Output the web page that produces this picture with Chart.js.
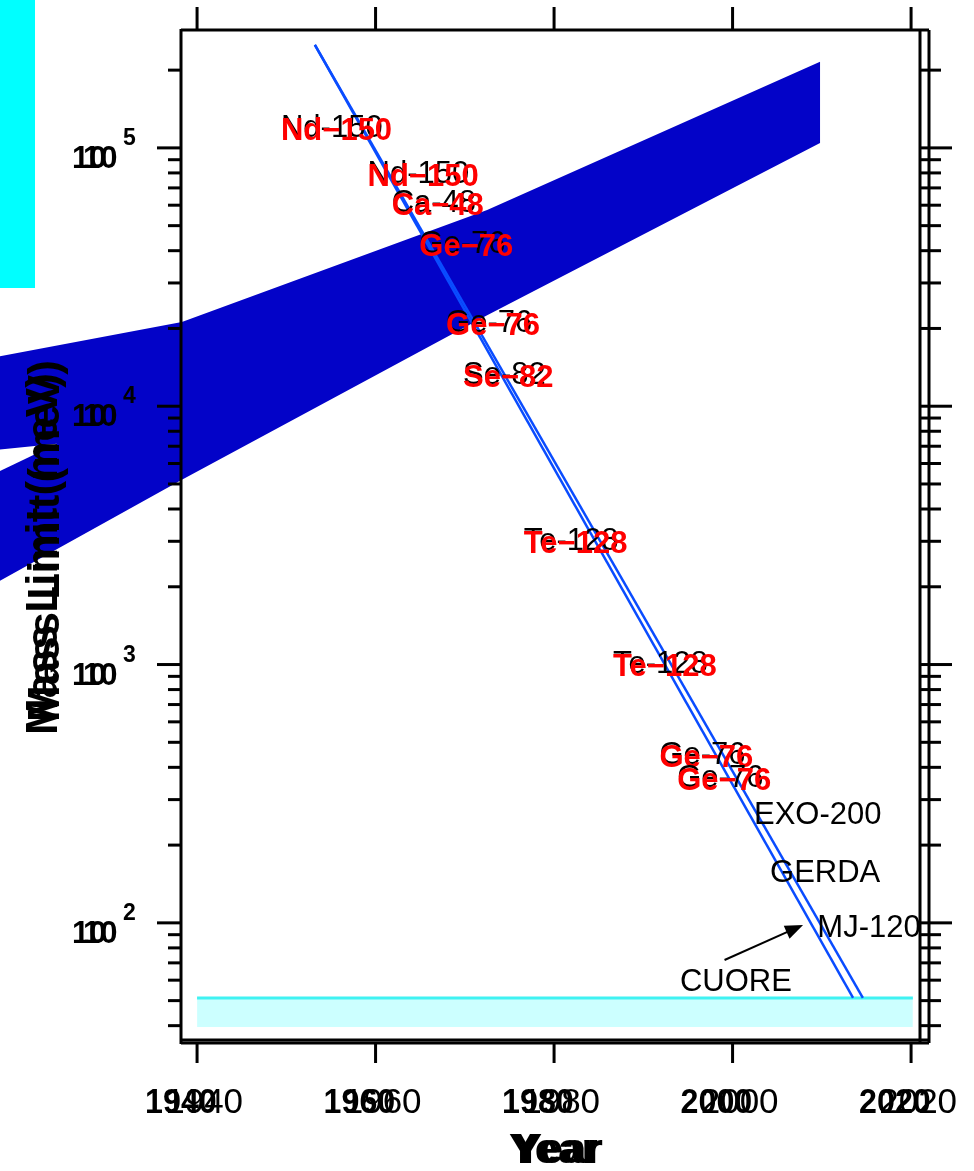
<!DOCTYPE html>
<html>
<head>
<meta charset="utf-8">
<script src="https://cdn.jsdelivr.net/npm/chart.js@4.4.1/dist/chart.umd.min.js"></script>
<style>
  html, body { margin: 0; padding: 0; background: #fff; }
  #wrap { position: relative; width: 974px; height: 1171px; }
</style>
</head>
<body>
<div id="wrap"><canvas id="chart"></canvas></div>
<script>
// sensitivity trend lines (year, mass limit in meV)
const trendYears = [1953.2, 2013.5];
const trendYears2 = [1953.2, 2014.6];
const trendLimits = [250500, 51.2];

// dark blue band
const bandYears = [1917.5, 1938.3, 1972.5, 2009.8];
const bandUpper = [15500, 21200, 57500, 215400];
const bandLower = [2070, 5190, 22500, 104500];
const gapYears = [1917.5, 1924.3, 1917.5];
const gapLimits = [6780, 7150, 5520];

// CUORE region
const cuoreYears = [1940, 2020.2];
const cuoreTop = [51.2, 51.2];
const cuoreBottom = [39.5, 39.5];

// isotope labels
const isoNames = ['Nd-150', 'Nd-150', 'Ca-48', 'Ge-76', 'Ge-76', 'Se-82', 'Te-128', 'Te-128', 'Ge-76', 'Ge-76'];
const isoYears = [1949.4, 1959.1, 1961.8, 1964.9, 1967.9, 1969.8, 1976.6, 1986.6, 1991.8, 1993.8];
const isoLimits = [121700, 80700, 62400, 43300, 21400, 13500, 3060, 1023, 455, 371];

// experiments
const expNames = ['EXO-200', 'GERDA', 'MJ-120', 'CUORE'];
const expYears = [2002.4, 2004.2, 2009.5, 1994.1];
const expLimits = [266, 159, 97.3, 60.1];
const arrowYears = [1999.1, 2007.9];
const arrowLimits = [71.8, 98.2];

const xTitle = 'Year';
const yTitle = 'Mass Limit (meV)';

const FONT = '"Liberation Sans", Arial, sans-serif';

function pts(xs, ys) {
  return xs.map((x, i) => ({x: x, y: ys[i]}));
}

function seg(ctx, x1, y1, x2, y2) {
  ctx.beginPath();
  ctx.moveTo(x1, y1);
  ctx.lineTo(x2, y2);
  ctx.stroke();
}

const decor = {
  id: 'decor',
  beforeDatasetsDraw(chart) {
    const {ctx} = chart;
    const x = chart.scales.x, y = chart.scales.y;
    ctx.save();
    // band, allowed to run past the left axis
    ctx.fillStyle = '#0303c8';
    ctx.beginPath();
    bandYears.forEach((yr, i) => {
      const px = x.getPixelForValue(yr), py = y.getPixelForValue(bandUpper[i]);
      if (i) ctx.lineTo(px, py); else ctx.moveTo(px, py);
    });
    for (let i = bandYears.length - 1; i >= 0; i--) {
      ctx.lineTo(x.getPixelForValue(bandYears[i]), y.getPixelForValue(bandLower[i]));
    }
    ctx.closePath();
    ctx.fill();
    // white notch at the far left
    ctx.fillStyle = '#fff';
    ctx.beginPath();
    gapYears.forEach((yr, i) => {
      const px = x.getPixelForValue(yr), py = y.getPixelForValue(gapLimits[i]);
      if (i) ctx.lineTo(px, py); else ctx.moveTo(px, py);
    });
    ctx.closePath();
    ctx.fill();
    ctx.restore();
  },
  afterDatasetsDraw(chart) {
    const {ctx} = chart;
    const a = chart.chartArea;
    const x = chart.scales.x, y = chart.scales.y;
    ctx.save();

    // frame
    ctx.strokeStyle = '#000';
    ctx.lineWidth = 3;
    seg(ctx, a.left, a.top, a.right + 9, a.top);
    seg(ctx, a.left, a.top - 1, a.left, a.bottom + 4);
    seg(ctx, a.left, a.bottom, a.right + 9, a.bottom);
    seg(ctx, a.left, a.bottom + 3, a.right + 9, a.bottom + 3);
    seg(ctx, a.right, a.top, a.right, a.bottom + 3);
    seg(ctx, a.right + 9, a.top, a.right + 9, a.bottom + 3);

    // y ticks and labels
    y.ticks.forEach(t => {
      const v = t.value;
      if (v < y.min || v > y.max) return;
      const e = Math.floor(Math.log10(v) + 1e-9);
      const s = v / Math.pow(10, e);
      if (Math.abs(s - Math.round(s)) > 1e-6) return;
      const py = y.getPixelForValue(v);
      const major = Math.round(s) === 1;
      seg(ctx, a.left - (major ? 24 : 13), py, a.left, py);
      seg(ctx, a.right, py, a.right + (major ? 32 : 21), py);
      if (major) {
        ctx.fillStyle = '#000';
        ctx.textAlign = 'left';
        ctx.textBaseline = 'alphabetic';
        ctx.font = 'bold 31px ' + FONT;
        ctx.fillText('10', 72, py + 20);
        ctx.fillText('10', 83, py + 20);
        ctx.font = 'bold 23px ' + FONT;
        ctx.fillText(String(e), 123, py - 3);
      }
    });

    // x ticks and labels
    x.ticks.forEach(t => {
      const v = t.value;
      if (v < x.min || v > x.max) return;
      const px = x.getPixelForValue(v);
      seg(ctx, px, a.top, px, a.top - 23);
      seg(ctx, px, a.bottom + 3, px, a.bottom + 23);
      ctx.fillStyle = '#000';
      ctx.textBaseline = 'alphabetic';
      ctx.textAlign = 'right';
      ctx.font = '35px ' + FONT;
      ctx.fillText(String(v), px + 46, 1113);
      ctx.save();
      ctx.translate(px - 52, 1113);
      ctx.scale(0.92, 1);
      ctx.textAlign = 'left';
      ctx.font = 'bold 35px ' + FONT;
      ctx.fillText(String(v), 0, 0);
      ctx.restore();
    });

    // axis titles
    ctx.fillStyle = '#000';
    ctx.textAlign = 'left';
    ctx.textBaseline = 'alphabetic';
    ctx.font = 'bold 42px ' + FONT;
    ctx.fillText(xTitle, 509, 1163);
    ctx.fillText(xTitle, 514, 1163);
    ctx.save();
    ctx.translate(57, 735);
    ctx.rotate(-Math.PI / 2);
    ctx.font = 'bold 44px ' + FONT;
    ctx.fillText(yTitle, 0, 0);
    ctx.fillText(yTitle, 13, 2);
    ctx.restore();

    // isotope labels, black under red
    isoNames.forEach((n, i) => {
      const px = x.getPixelForValue(isoYears[i]);
      const py = y.getPixelForValue(isoLimits[i]);
      ctx.fillStyle = '#000';
      ctx.font = '31px ' + FONT;
      ctx.fillText(n, px, py + 11);
      ctx.fillStyle = '#ff0000';
      ctx.font = 'bold 31px ' + FONT;
      ctx.fillText(n.replace('-', '\u2212'), px, py + 14);
    });

    // experiment labels
    ctx.fillStyle = '#000';
    ctx.font = '31px ' + FONT;
    expNames.forEach((n, i) => {
      ctx.fillText(n, x.getPixelForValue(expYears[i]), y.getPixelForValue(expLimits[i]) + 11);
    });

    // arrow
    const x1 = x.getPixelForValue(arrowYears[0]), y1 = y.getPixelForValue(arrowLimits[0]);
    const x2 = x.getPixelForValue(arrowYears[1]), y2 = y.getPixelForValue(arrowLimits[1]);
    const ang = Math.atan2(y2 - y1, x2 - x1);
    ctx.lineWidth = 2;
    seg(ctx, x1, y1, x2 - 14 * Math.cos(ang), y2 - 14 * Math.sin(ang));
    ctx.beginPath();
    ctx.moveTo(x2, y2);
    ctx.lineTo(x2 - 18 * Math.cos(ang) + 7 * Math.sin(ang), y2 - 18 * Math.sin(ang) - 7 * Math.cos(ang));
    ctx.lineTo(x2 - 18 * Math.cos(ang) - 7 * Math.sin(ang), y2 - 18 * Math.sin(ang) + 7 * Math.cos(ang));
    ctx.closePath();
    ctx.fill();

    // cyan block in the corner
    ctx.fillStyle = '#00ffff';
    ctx.fillRect(0, 0, 35, 288);

    ctx.restore();
  }
};

const ctx = document.getElementById('chart').getContext('2d');
new Chart(ctx, {
  type: 'line',
  data: {
    datasets: [
      {data: pts(trendYears, trendLimits), borderColor: '#0a4cff', borderWidth: 2.5, pointRadius: 0, fill: false},
      {data: pts(trendYears2, trendLimits), borderColor: '#0a4cff', borderWidth: 2.5, pointRadius: 0, fill: false},
      {data: pts(cuoreYears, cuoreTop), borderColor: '#40f2f2', borderWidth: 3, pointRadius: 0, fill: false},
      {data: pts(cuoreYears, cuoreBottom), borderColor: 'rgba(0,0,0,0)', borderWidth: 0, backgroundColor: '#ccffff', pointRadius: 0, fill: '-1'}
    ]
  },
  options: {
    responsive: true,
    maintainAspectRatio: false,
    animation: false,
    layout: {padding: {left: 181, right: 54, top: 30, bottom: 131}},
    scales: {
      x: {type: 'linear', min: 1938.2, max: 2021, display: false, ticks: {stepSize: 20, includeBounds: false}},
      y: {type: 'logarithmic', min: 35.2, max: 286000, display: false}
    },
    plugins: {
      legend: {display: false},
      tooltip: {enabled: false}
    }
  },
  plugins: [decor]
});
</script>
</body>
</html>
